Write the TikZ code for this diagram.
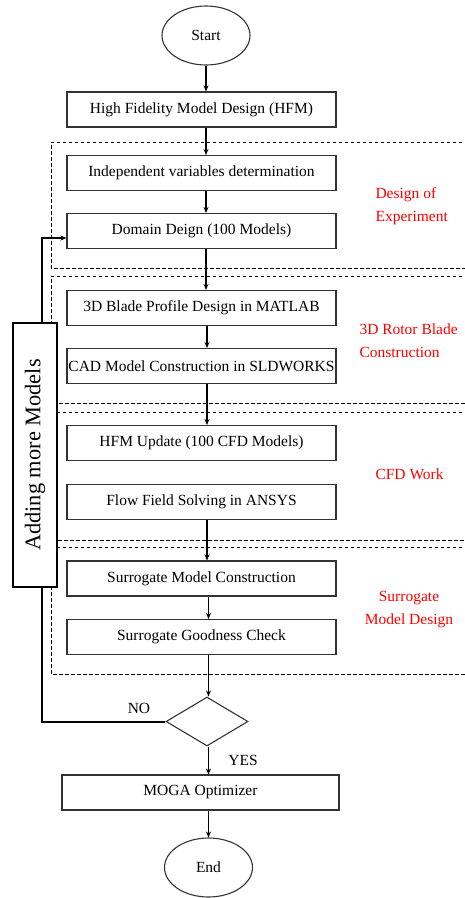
\documentclass[tikz,border=0pt]{standalone}
\usepackage{fontspec}
\setmainfont{Liberation Serif}
\usetikzlibrary{arrows.meta,shapes.geometric}

\begin{document}
\begin{tikzpicture}[x=1pt,y=-1pt,font=\fontsize{15.5}{23}\selectfont,
    stage/.style={draw=black!80,line width=1.1pt,minimum width=269pt,minimum height=35pt,inner xsep=1pt,inner ysep=0pt},
    term/.style={draw=black!80,line width=1.1pt,ellipse,minimum width=88pt,minimum height=59pt,inner sep=0pt},
    arr/.style={line width=1.4pt,-{Stealth[length=6pt,width=5pt]}},
    group/.style={line width=0.8pt,dash pattern=on 3.5pt off 2.5pt},
    tag/.style={text=red,align=left,anchor=west}]
    \useasboundingbox (0,0) rectangle (465,898);
    \clip (0,0) rectangle (465,898);
    % % ----- groups ----- % %
    \draw [group] (480,142) -- (51,142) -- (51,268) -- (480,268); 	% design of experiment
    \draw [group] (480,276) -- (51,276) -- (51,403) -- (480,403); 	% blade construction
    \draw [group] (480,412) -- (51,412) -- (51,540) -- (480,540); 	% cfd
    \draw [group] (480,547) -- (51,547) -- (51,674) -- (480,674); 	% surrogate
    % % ----- nodes ----- % %
    \node [term] (start) at (206,35.5) {Start};
    \node [stage] (hfm) at (201.5,109.5) {High Fidelity Model Design (HFM)};
    \node [stage] (indep) at (201.5,173) {Independent variables determination\hspace{14pt}};
    \node [stage] (domain) at (201.5,231) {Domain Deign (100 Models)};
    \node [stage] (blade) at (201.5,308) {3D Blade Profile Design in MATLAB};
    \node [stage] (cad) at (201.5,366) {CAD Model Construction in SLDWORKS};
    \node [stage] (update) at (201.5,443) {HFM Update (100 CFD Models)};
    \node [stage] (flow) at (201.5,502) {Flow Field Solving in ANSYS};
    \node [stage] (surcon) at (201.5,578.5) {Surrogate Model Construction};
    \node [stage] (surgood) at (201.5,637) {Surrogate Goodness Check};
    \node [draw=black!80,line width=1.1pt,diamond,minimum width=82pt,minimum height=49pt,inner sep=0pt] (check) at (207,721.5) {};
    \node [stage,minimum width=277pt] (moga) at (200.5,792.5) {MOGA Optimizer};
    \node [term] (end) at (208.5,867.5) {End};
    % % ----- group tags ----- % %
    \node [tag] (doe) at (372,206) {Design of\\Experiment};
    \node [tag] (rotor) at (356,341) {3D Rotor Blade\\Construction};
    \node [tag] (cfd) at (372,474) {CFD Work};
    \node [tag,align=center,anchor=center] (sur) at (409,610) {Surrogate\\Model Design};
    % % ----- arrows ----- % %
    \draw [arr] (start) -- (hfm.north -| start);
    \draw [arr] (hfm.south -| start) -- (indep.north -| start);
    \draw [arr] (indep.south -| start) -- (domain.north -| start);
    \draw [arr] (domain.south -| start) -- (blade.north -| start);
    \draw [arr] (blade.south -| check) -- (cad.north -| check);
    \draw [arr] (cad.south -| check) -- (update.north -| check);
    \draw [arr] (flow.south -| check) -- (surcon.north -| check);
    \draw [arr] (surcon.south -| end) -- (surgood.north -| end);
    \draw [arr] (surgood.south -| end) -- (check.north -| end);
    \draw [arr] (check.south -| end) -- (moga.north -| end);
    \draw [arr] (moga.south -| end) -- (end);
    % % ----- loop back ----- % %
    \coordinate (loopx) at (42,0);
    \draw [line width=2pt,-{Stealth[length=6pt,width=5pt]}] (check.west) -- (check.west -| loopx) |- ([yshift=-7pt]domain.west);
    \node [draw=black,line width=2pt,fill=white,rotate=90,minimum width=264pt,minimum height=44pt,inner sep=0pt,font=\fontsize{22.4}{26}\selectfont] (more) at (35,455) {Adding more Models};
    \node (no) at (139,708) {NO};
    \node (yes) at (243,760) {YES};
\end{tikzpicture}
\end{document}
